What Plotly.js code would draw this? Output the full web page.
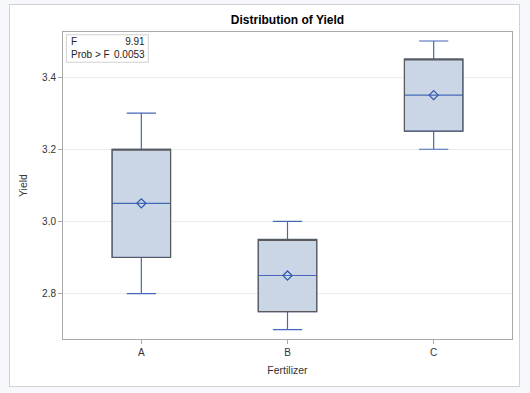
<!DOCTYPE html>
<html>
<head>
<meta charset="utf-8">
<script src="https://cdn.plot.ly/plotly-3.0.1.min.js"></script>
<style>
  html, body { margin: 0; padding: 0; background: #f6f8fc; }
  #panel { position: absolute; left: 9px; top: 4px; width: 511px; height: 383px;
           box-sizing: border-box; border: 1px solid #d2d2d2; background: #ffffff; }
  #chart { position: absolute; left: 0; top: 0; width: 509px; height: 381px; }
</style>
</head>
<body>
<div id="panel"><div id="chart"></div></div>
<script>
// Data
const categories = ['A', 'B', 'C'];
const minVals    = [2.80, 2.70, 3.20];
const q1Vals     = [2.90, 2.75, 3.25];
const medianVals = [3.05, 2.85, 3.35];
const q3Vals     = [3.20, 2.95, 3.45];
const maxVals    = [3.30, 3.00, 3.50];
const meanVals   = [3.05, 2.85, 3.35];
const statLabels = ['F', 'Prob > F'];
const statValues = ['9.91', '0.0053'];

const font = '"Liberation Sans", Arial, sans-serif';

const traces = [
  {
    type: 'box', x: categories,
    q1: q1Vals, median: medianVals, q3: q3Vals,
    lowerfence: minVals, upperfence: maxVals,
    width: 0.4, whiskerwidth: 0.5,
    fillcolor: '#cad5e6',
    line: { color: '#4469b8', width: 1.2 },
    hoverinfo: 'skip', showlegend: false
  },
  {
    // box outline overlay (gray), whiskers collapsed to the box edges
    type: 'box', x: categories,
    q1: q1Vals, median: q3Vals, q3: q3Vals,
    lowerfence: q1Vals, upperfence: q3Vals,
    width: 0.4, whiskerwidth: 0,
    fillcolor: 'rgba(0,0,0,0)',
    line: { color: '#5a5a5a', width: 1.1 },
    hoverinfo: 'skip', showlegend: false
  },
  {
    type: 'scatter', mode: 'markers', x: categories, y: meanVals,
    marker: { symbol: 'diamond-open', size: 7, color: '#2f57ab', line: { width: 1.2 } },
    hoverinfo: 'skip', showlegend: false
  }
];

const layout = {
  width: 509, height: 381,
  margin: { l: 53, r: 7, t: 27, b: 47 },
  paper_bgcolor: '#ffffff', plot_bgcolor: '#ffffff',
  font: { family: font, size: 10, color: '#333333' },
  boxmode: 'overlay',
  showlegend: false,
  title: {
    text: '<b>Distribution of Yield</b>',
    font: { family: font, size: 12, color: '#000000' },
    x: 0.5, xref: 'paper', xanchor: 'center',
    y: 0.9606, yref: 'container', yanchor: 'middle'
  },
  xaxis: {
    type: 'category', categoryorder: 'array', categoryarray: categories,
    range: [-0.536, 2.536],
    showgrid: false, zeroline: false,
    showline: true, mirror: true, linecolor: '#a9a9a9', linewidth: 1,
    ticks: 'outside', ticklen: 4, tickcolor: '#a9a9a9',
    tickfont: { family: font, size: 10, color: '#333333' },
    title: { text: 'Fertilizer', font: { family: font, size: 10.5, color: '#333333' }, standoff: 9 }
  },
  yaxis: {
    range: [2.674, 3.525],
    tickvals: [2.8, 3.0, 3.2, 3.4], ticktext: ['2.8', '3.0', '3.2', '3.4'],
    showgrid: true, gridcolor: '#ececec', gridwidth: 1, zeroline: false,
    showline: true, mirror: true, linecolor: '#a9a9a9', linewidth: 1,
    ticks: 'outside', ticklen: 4, tickcolor: '#a9a9a9',
    tickfont: { family: font, size: 10, color: '#333333' },
    title: { text: 'Yield', font: { family: font, size: 10.5, color: '#333333' }, standoff: 12 }
  },
  shapes: [
    { type: 'rect', xref: 'paper', yref: 'paper', x0: 0.0076, x1: 0.1900, y0: 0.9015, y1: 0.991,
      line: { color: '#d0d0d0', width: 1 }, fillcolor: 'rgba(255,255,255,0.9)', layer: 'above' }
  ],
  annotations: [
    { xref: 'paper', yref: 'paper', x: 0.0127, y: 0.947, xanchor: 'left', yanchor: 'middle',
      align: 'left', showarrow: false, text: statLabels.join('<br>'),
      font: { family: font, size: 10, color: '#222222' } },
    { xref: 'paper', yref: 'paper', x: 0.1875, y: 0.947, xanchor: 'right', yanchor: 'middle',
      align: 'right', showarrow: false, text: statValues.join('<br>'),
      font: { family: font, size: 10, color: '#222222' } }
  ]
};

Plotly.newPlot('chart', traces, layout, { staticPlot: true, displayModeBar: false });
</script>
</body>
</html>
